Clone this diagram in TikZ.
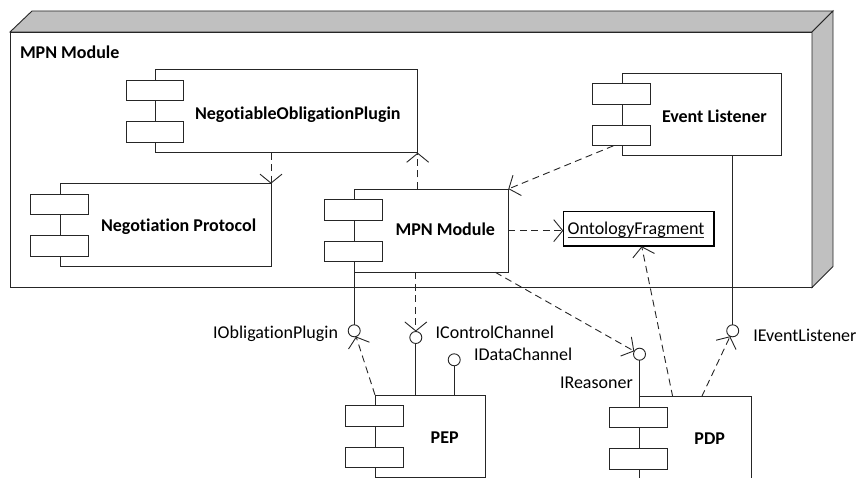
\documentclass[tikz,border=0pt]{standalone}
\usepackage{fontspec}
\setmainfont{Carlito}[Ligatures={NoCommon,NoRequired,NoContextual}]
\usetikzlibrary{arrows.meta,calc}
\definecolor{nodegray}{HTML}{C0C0C0}
\definecolor{ink}{HTML}{262626}
\tikzset{
  lbl/.style={inner sep=0pt, outer sep=0pt, font=\fontsize{18}{21}\selectfont, text=black},
  blbl/.style={lbl, font=\fontsize{18}{21}\selectfont\bfseries},
  cbox/.style={draw=ink, line width=0.9pt, fill=white, rectangle, inner sep=0pt, outer sep=0pt},
  port/.style={cbox, minimum width=57.5pt, minimum height=20.5pt},
  iface/.style={draw=ink, line width=0.9pt, fill=white, circle, inner sep=0pt, outer sep=0pt, minimum size=12pt},
  solidline/.style={draw=ink, line width=0.9pt},
  dep/.style={draw=ink, line width=0.9pt, dash pattern=on 7pt off 4.5pt,
    -{Straight Barb[length=9pt, width=22pt, line width=0.9pt]}},
}
\newcommand\mycomp[5]{%
  \node[cbox, minimum width=#4, minimum height=#5, anchor=north west] (#1) at (#2,#3) {};
  \node[port, anchor=north west] (#1p1) at ($(#1.north west)+(-29.5,10.5)$) {};
  \node[port, anchor=north west] (#1p2) at ($(#1.north west)+(-29.5,52)$) {};
}
\begin{document}
\begin{tikzpicture}[x=1pt, y=-1pt]
\useasboundingbox (0,0) rectangle (859,478);
\clip (0,0) rectangle (859,478);
% 3D node
\node[cbox, minimum width=802, minimum height=255.5, anchor=north west] (mod) at (10,32) {};
\draw[draw=ink, line width=0.9pt, fill=nodegray] (mod.north west) -- ++(22,-21) -- ($(mod.north east)+(21,-21)$) -- (mod.north east) -- cycle;
\draw[draw=ink, line width=0.9pt, fill=nodegray] (mod.north east) -- ++(21,-21) -- ($(mod.south east)+(21,-21)$) -- (mod.south east) -- cycle;
\node[blbl, anchor=base west] (modlbl) at (20,58.5) {MPN Module};

% components
\mycomp{nop}{155.7}{69.7}{262}{83}
\node[blbl, anchor=base west] (noplbl) at (195,119.3) {NegotiableObligationPlugin};
\mycomp{el}{622.3}{73.3}{158.7}{82.4}
\node[blbl, anchor=base west] (ellbl) at (662,122.7) {Event Listener};
\mycomp{np}{60.3}{183.7}{210.7}{83}
\node[blbl, anchor=base west] (nplbl) at (101,231.7) {Negotiation Protocol};
\mycomp{mpn}{354}{189}{154.3}{83.3}
\node[blbl, anchor=base east] (mpnlbl) at (495,235.8) {MPN Module};
\mycomp{pep}{375}{395}{110.5}{82}
\node[blbl, anchor=base] (peplbl) at (444.7,443.3) {PEP};
\mycomp{pdp}{639.3}{396.7}{112.4}{95}
\node[blbl, anchor=base] (pdplbl) at (709.7,444) {PDP};

% ontology fragment
\node[draw=black, line width=1.6pt, fill=white, minimum width=150.7, minimum height=34.6, anchor=north west, inner sep=0pt, outer sep=0pt] (of) at (563.3,211.7) {};
\node[lbl, anchor=base west] (oflbl) at (567.7,235) {OntologyFragment};
\draw[ink, line width=0.9pt] ($(oflbl.base west)+(0,2.5)$) -- ($(oflbl.base east)+(0,2.5)$);

% interfaces
\node[iface] (iop) at (354.2,330.8) {};
\node[iface] (icc) at (415.8,337.5) {};
\node[iface] (idc) at (454.2,359.8) {};
\node[iface] (ireas) at (639.5,354.2) {};
\node[iface] (iel) at (732.7,330.8) {};
\node[lbl, anchor=base east] (iopl) at (338,338.3) {IObligationPlugin};
\node[lbl, anchor=base west] (iccl) at (435.7,338.3) {IControlChannel};
\node[lbl, anchor=base west] (idcl) at (474,360.7) {IDataChannel};
\node[lbl, anchor=base west] (ireasl) at (560,388.3) {IReasoner};
\node[lbl, anchor=base west] (iell) at (753.3,341.7) {IEventListener};

% solid lines
\draw[solidline] (iop |- mpn.south) -- (iop.north);
\draw[solidline] (icc.south) -- (icc |- pep.north);
\draw[solidline] (idc.south) -- (idc |- pep.north);
\draw[solidline] (ireas.south) -- (ireas |- pdp.north);
\draw[solidline] (iel |- el.south) -- (iel.north);

% dependencies
\draw[dep] (np.north east |- nop.south) -- (np.north east);
\draw[dep] (nop.south east |- mpn.north) -- (nop.south east);
\coordinate (elstart) at ($(elp2.south west)+(20.6,0)$);
\draw[dep] (elstart) -- (mpn.north east);
\draw[dep] (mpn.east) -- (mpn.east -| of.west);
\coordinate (pdpof) at ($(pdp.north west)+(33.4,0)$);
\coordinate (ofin) at ($(of.south west)+(78.4,0)$);
\draw[dep] (pdpof) -- (ofin);
\coordinate (mpnre) at ($(mpn.south east)+(-13,0)$);
\draw[dep] (mpnre) -- (ireas);
\coordinate (pdpel) at ($(pdp.north west)+(62.4,0)$);
\draw[dep] (pdpel) -- (iel);
\draw[dep] (pep.north west) -- (iop);
\draw[dep] (icc |- mpn.south) -- (icc.north);
\end{tikzpicture}
\end{document}
